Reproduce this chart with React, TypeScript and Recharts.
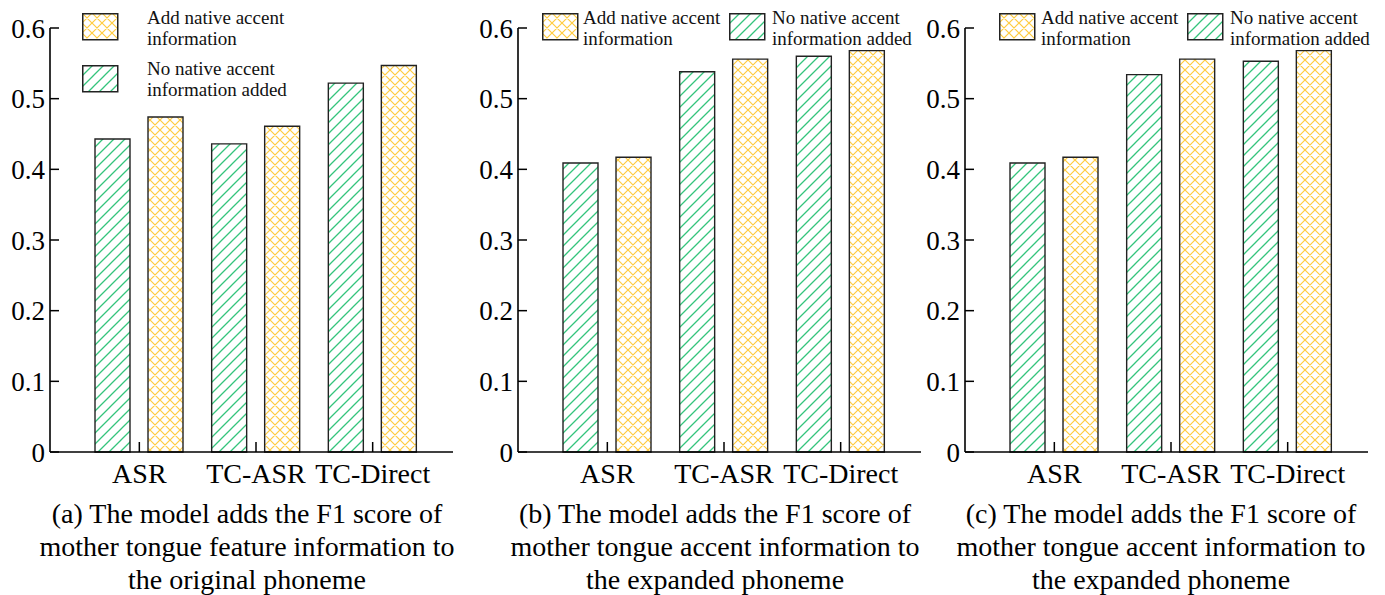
import { BarChart, Bar, XAxis, YAxis } from 'recharts'

const categories = ['ASR', 'TC-ASR', 'TC-Direct']
const yTicks = [0, 0.1, 0.2, 0.3, 0.4, 0.5, 0.6]

// panel (a): original phoneme
const noAccentA = [0.443, 0.436, 0.522]
const addAccentA = [0.474, 0.461, 0.547]
// panel (b): expanded phoneme
const noAccentB = [0.409, 0.538, 0.56]
const addAccentB = [0.417, 0.556, 0.568]
// panel (c): expanded phoneme
const noAccentC = [0.409, 0.534, 0.553]
const addAccentC = [0.417, 0.556, 0.568]

const captionA = [
  '(a) The model adds the F1 score of',
  'mother tongue feature information to',
  'the original phoneme',
]
const captionB = [
  '(b) The model adds the F1 score of',
  'mother tongue accent information to',
  'the expanded phoneme',
]
const captionC = [
  '(c) The model adds the F1 score of',
  'mother tongue accent information to',
  'the expanded phoneme',
]

const ADD_NAME = ['Add native accent', 'information']
const NO_NAME = ['No native accent', 'information added']

const FONT = "'Liberation Serif', 'DejaVu Serif', serif"

function toRows(noAcc: number[], addAcc: number[]) {
  return categories.map((c, i) => ({ name: c, noAccent: noAcc[i], addAccent: addAcc[i] }))
}

function YTick(props: any) {
  const { x, y, payload } = props
  const ax = x + 5
  return (
    <g>
      <line x1={ax} x2={ax + 9} y1={y} y2={y} stroke="#000" strokeWidth={1.5} />
      <text x={x} y={y} dy="0.36em" textAnchor="end" fontSize={27} style={{ fontFamily: FONT }} fill="#000">
        {String(payload.value)}
      </text>
    </g>
  )
}

function XTick(props: any) {
  const { x, y, payload } = props
  return (
    <g>
      <line x1={x} x2={x} y1={y} y2={y - 10} stroke="#000" strokeWidth={1.5} />
      <text x={x} y={y + 31} textAnchor="middle" fontSize={28} style={{ fontFamily: FONT }} fill="#000">
        {payload.value}
      </text>
    </g>
  )
}

function Swatch({ left, top, fill }: { left: number; top: number; fill: string }) {
  return (
    <svg width={37} height={28} style={{ position: 'absolute', left, top }}>
      <rect x={0.75} y={0.75} width={35} height={26} fill={fill} stroke="#222" strokeWidth={1.5} />
    </svg>
  )
}

function LegendText({ left, top, lines }: { left: number; top: number; lines: string[] }) {
  return (
    <div
      style={{
        position: 'absolute',
        left,
        top,
        fontFamily: FONT,
        fontSize: 19,
        lineHeight: '21px',
        color: '#111',
        whiteSpace: 'nowrap',
      }}
    >
      {lines.map((l) => (
        <div key={l}>{l}</div>
      ))}
    </div>
  )
}

interface PanelProps {
  left: number
  rows: { name: string; noAccent: number; addAccent: number }[]
  caption: string[]
  captionCenter: number
  legend: { box: [number, number]; text: [number, number]; fill: string; lines: string[] }[]
}

function Panel({ left, rows, caption, captionCenter, legend }: PanelProps) {
  return (
    <>
      <div style={{ position: 'absolute', left, top: 0 }}>
        <BarChart
          width={460}
          height={500}
          data={rows}
          margin={{ top: 28, right: 7, left: 0, bottom: 0 }}
          barSize={35}
          barGap={18}
        >
          <XAxis
            dataKey="name"
            height={48}
            padding={{ left: 31, right: 22 }}
            axisLine={{ stroke: '#000', strokeWidth: 1.6 }}
            tickLine={false}
            tickSize={0}
            tickMargin={0}
            tick={<XTick />}
            interval={0}
          />
          <YAxis
            width={50}
            domain={[0, 0.6]}
            ticks={yTicks}
            axisLine={{ stroke: '#000', strokeWidth: 1.6 }}
            tickLine={false}
            tickSize={0}
            tickMargin={5}
            tick={<YTick />}
            interval={0}
          />
          <Bar
            dataKey="noAccent"
            name="No native accent information added"
            fill="url(#hatchGreen)"
            stroke="#222"
            strokeWidth={1.4}
            isAnimationActive={false}
          />
          <Bar
            dataKey="addAccent"
            name="Add native accent information"
            fill="url(#hatchYellow)"
            stroke="#222"
            strokeWidth={1.4}
            isAnimationActive={false}
          />
        </BarChart>
      </div>
      {legend.map((l, i) => (
        <div key={i}>
          <Swatch left={l.box[0]} top={l.box[1]} fill={l.fill} />
          <LegendText left={l.text[0]} top={l.text[1]} lines={l.lines} />
        </div>
      ))}
      <div
        style={{
          position: 'absolute',
          left: captionCenter - 240,
          width: 480,
          top: 497,
          textAlign: 'center',
          fontFamily: FONT,
          fontSize: 28,
          lineHeight: '33px',
          color: '#000',
          whiteSpace: 'nowrap',
        }}
      >
        {caption.map((c) => (
          <div key={c}>{c}</div>
        ))}
      </div>
    </>
  )
}

export default function App() {
  const Y = 'url(#hatchYellow)'
  const G = 'url(#hatchGreen)'
  return (
    <div
      style={{
        position: 'absolute',
        left: 0,
        top: 0,
        width: 1385,
        height: 595,
        background: '#fff',
        overflow: 'hidden',
      }}
    >
      <svg width={0} height={0} style={{ position: 'absolute' }}>
        <defs>
          <pattern id="hatchGreen" patternUnits="userSpaceOnUse" width={11} height={11}>
            <rect width={11} height={11} fill="#fff" />
            <path d="M0,11 L11,0 M-2,2 L2,-2 M9,13 L13,9" stroke="#34c47c" strokeWidth={1.3} />
          </pattern>
          <pattern id="hatchYellow" patternUnits="userSpaceOnUse" width={10} height={10}>
            <rect width={10} height={10} fill="#fff" />
            <path
              d="M0,0 L10,10 M0,10 L10,0 M-2,2 L2,-2 M8,12 L12,8 M-2,8 L2,12 M8,-2 L12,2"
              stroke="#ffcc3f"
              strokeWidth={1.2}
            />
          </pattern>
        </defs>
      </svg>
      <Panel
        left={0}
        rows={toRows(noAccentA, addAccentA)}
        caption={captionA}
        captionCenter={247}
        legend={[
          { box: [82, 13], text: [147, 7], fill: Y, lines: ADD_NAME },
          { box: [82, 65], text: [147, 58], fill: G, lines: NO_NAME },
        ]}
      />
      <Panel
        left={468}
        rows={toRows(noAccentB, addAccentB)}
        caption={captionB}
        captionCenter={715}
        legend={[
          { box: [542, 13], text: [583, 7], fill: Y, lines: ADD_NAME },
          { box: [729, 13], text: [772, 7], fill: G, lines: NO_NAME },
        ]}
      />
      <Panel
        left={915}
        rows={toRows(noAccentC, addAccentC)}
        caption={captionC}
        captionCenter={1161}
        legend={[
          { box: [999, 13], text: [1041, 7], fill: Y, lines: ADD_NAME },
          { box: [1187, 13], text: [1230, 7], fill: G, lines: NO_NAME },
        ]}
      />
    </div>
  )
}
